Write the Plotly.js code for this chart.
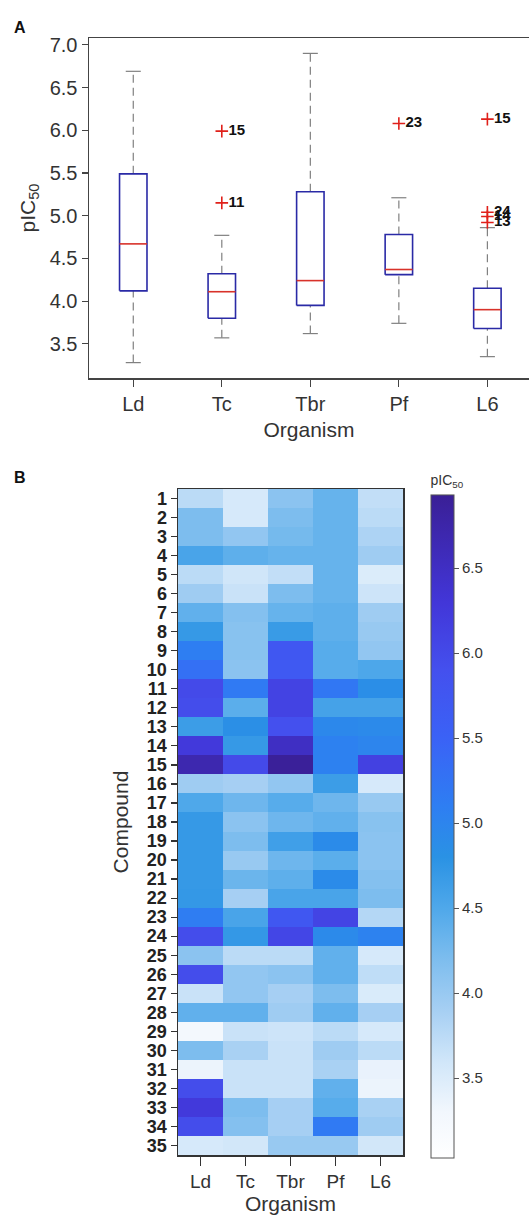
<!DOCTYPE html>
<html>
<head>
<meta charset="utf-8">
<script src="https://cdn.plot.ly/plotly-3.0.1.min.js"></script>
<style>html,body{margin:0;padding:0;background:#fff;}#chart{width:529px;height:1218px;}</style>
</head>
<body>
<div id="chart"></div>
<script>
// ---- Panel A: box-plot summary statistics ----
var organisms = ['Ld', 'Tc', 'Tbr', 'Pf', 'L6'];
var lowerWhisker = [3.28, 3.57, 3.62, 3.74, 3.35];
var q1 = [4.12, 3.80, 3.95, 4.31, 3.68];
var median = [4.67, 4.11, 4.24, 4.37, 3.90];
var q3 = [5.49, 4.32, 5.28, 4.78, 4.15];
var upperWhisker = [6.69, 4.77, 6.90, 5.21, 4.86];
var outlierOrg = ['Tc', 'Tc', 'Pf', 'L6', 'L6', 'L6', 'L6'];
var outlierVal = [5.99, 5.15, 6.08, 6.13, 5.04, 4.99, 4.92];
var outlierLabel = ['15', '11', '23', '15', '24', '14', '13'];
var boxTicks = [3.5, 4.0, 4.5, 5.0, 5.5, 6.0, 6.5, 7.0];

// ---- Panel B: heatmap values (compound x organism) ----
var compounds = [];
for (var c = 1; c <= 35; c++) compounds.push(c);
var Ld  = [3.75,4.20,4.20,4.55,3.75,3.95,4.38,4.70,5.10,5.30,6.00,5.95,4.65,6.25,6.69,3.95,4.50,4.70,4.70,4.70,4.70,4.72,5.12,5.95,4.10,5.95,3.65,4.38,3.28,4.20,3.35,5.95,6.25,5.95,3.55];
var Tc  = [3.55,3.55,4.05,4.40,3.60,3.65,4.15,4.12,4.12,4.10,5.15,4.42,4.85,4.70,5.99,3.90,4.30,4.10,4.20,4.00,4.32,3.90,4.55,4.72,3.75,4.05,4.05,4.38,3.65,3.88,3.65,3.65,4.20,4.15,3.58];
var Tbr = [4.10,4.20,4.25,4.35,3.70,4.20,4.35,4.68,5.75,5.70,6.10,6.10,5.90,6.50,6.90,4.05,4.45,4.30,4.62,4.30,4.40,4.55,5.75,6.05,3.75,4.10,3.90,3.95,3.62,3.65,3.65,3.65,3.90,3.90,4.00];
var Pf  = [4.35,4.35,4.35,4.35,4.35,4.35,4.40,4.40,4.45,4.45,5.20,4.58,4.95,5.05,5.05,4.65,4.30,4.38,4.90,4.42,4.90,4.55,6.08,4.92,4.38,4.38,4.20,4.38,3.75,3.95,3.88,4.38,4.45,5.15,4.00];
var L6  = [3.70,3.75,3.85,3.95,3.50,3.62,3.95,4.00,4.05,4.52,4.86,4.58,4.92,4.99,6.13,3.55,4.00,4.12,4.10,4.10,4.15,4.20,3.80,5.04,3.55,3.72,3.52,3.90,3.55,3.75,3.38,3.35,3.88,3.95,3.58];
var cbTicks = [3.5, 4.0, 4.5, 5.0, 5.5, 6.0, 6.5];

// ---- styling constants ----
var FONT = 'Liberation Sans, Arial, sans-serif';
var W = 529, H = 1218;
var zMin = 3.03, zMax = 6.93;
var colorStops = [
  [3.03, '#ffffff'], [3.30, '#f2f7fd'], [3.60, '#d0e6f9'], [3.90, '#a6cff3'],
  [4.20, '#7dbdee'], [4.50, '#4fa8ea'], [4.80, '#2a92e4'], [5.10, '#2e7ef2'],
  [5.50, '#3a62f6'], [5.90, '#4450ee'], [6.30, '#4236d8'], [6.93, '#3a1f96']
];
var colorscale = colorStops.map(function (s) { return [(s[0] - zMin) / (zMax - zMin), s[1]]; });

var traces = [];
var halfBox = 0.155, halfCap = 0.085;
var boxColor = '#2a2aa6', medColor = '#d8322a', whiskColor = '#808080';

var wx = [], wy = [], cx = [], cy = [], bx = [], by = [], mx = [], my = [];
organisms.forEach(function (o, i) {
  wx.push(i, i, null, i, i, null);
  wy.push(q3[i], upperWhisker[i], null, lowerWhisker[i], q1[i], null);
  cx.push(i - halfCap, i + halfCap, null, i - halfCap, i + halfCap, null);
  cy.push(upperWhisker[i], upperWhisker[i], null, lowerWhisker[i], lowerWhisker[i], null);
  bx.push(i - halfBox, i + halfBox, i + halfBox, i - halfBox, i - halfBox, null);
  by.push(q1[i], q1[i], q3[i], q3[i], q1[i], null);
  mx.push(i - halfBox, i + halfBox, null);
  my.push(median[i], median[i], null);
});
traces.push({x: wx, y: wy, type: 'scatter', mode: 'lines', xaxis: 'x', yaxis: 'y',
  line: {color: whiskColor, width: 1.2, dash: '8px,5px'}, hoverinfo: 'skip', showlegend: false});
traces.push({x: cx, y: cy, type: 'scatter', mode: 'lines', xaxis: 'x', yaxis: 'y',
  line: {color: whiskColor, width: 1.2}, hoverinfo: 'skip', showlegend: false});
traces.push({x: bx, y: by, type: 'scatter', mode: 'lines', xaxis: 'x', yaxis: 'y',
  line: {color: boxColor, width: 1.6}, hoverinfo: 'skip', showlegend: false});
traces.push({x: mx, y: my, type: 'scatter', mode: 'lines', xaxis: 'x', yaxis: 'y',
  line: {color: medColor, width: 1.6}, hoverinfo: 'skip', showlegend: false});
traces.push({
  x: outlierOrg.map(function (o) { return organisms.indexOf(o); }),
  y: outlierVal, text: outlierLabel, type: 'scatter', mode: 'markers+text',
  xaxis: 'x', yaxis: 'y', textposition: 'middle right',
  textfont: {family: FONT, size: 15, color: '#111', weight: 'bold'},
  marker: {symbol: 'cross-thin', size: 9, line: {color: '#e0201a', width: 1.6}},
  hoverinfo: 'skip', showlegend: false
});

var cols = [Ld, Tc, Tbr, Pf, L6];
var z = compounds.map(function (c, r) { return cols.map(function (col) { return col[r]; }); });
traces.push({
  type: 'heatmap', z: z, x: [0, 1, 2, 3, 4], y: compounds, xaxis: 'x2', yaxis: 'y2',
  zmin: zMin, zmax: zMax, colorscale: colorscale, showscale: true,
  colorbar: {
    x: 431 / W, xanchor: 'left', xref: 'paper', xpad: 0,
    y: 1 - 815 / H, yanchor: 'middle', yref: 'paper', ypad: 0,
    lenmode: 'pixels', len: 686, thicknessmode: 'pixels', thickness: 23,
    outlinewidth: 1, outlinecolor: '#555',
    ticks: 'outside', ticklen: 5, tickcolor: '#555', tickwidth: 1,
    tickvals: cbTicks, ticktext: cbTicks.map(function (v) { return v.toFixed(1); }),
    tickfont: {family: FONT, size: 15, color: '#333'},
    title: {text: 'pIC<sub>50</sub>', side: 'top', font: {family: FONT, size: 14, color: '#333'}}
  },
  hoverinfo: 'skip'
});

var layout = {
  width: W, height: H,
  margin: {l: 0, r: 0, t: 0, b: 0},
  paper_bgcolor: '#fff', plot_bgcolor: '#fff',
  font: {family: FONT, color: '#333'},
  showlegend: false,
  xaxis: {
    domain: [89 / W, 1], range: [-0.5, 4.47], anchor: 'y',
    tickvals: [0, 1, 2, 3, 4], ticktext: organisms,
    showline: true, mirror: true, linecolor: '#444', linewidth: 1.5,
    ticks: 'outside', ticklen: 7, tickcolor: '#444', tickwidth: 1.2,
    showgrid: false, zeroline: false,
    tickfont: {family: FONT, size: 20, color: '#333'},
    title: {text: 'Organism', font: {family: FONT, size: 21, color: '#333'}, standoff: 9}
  },
  yaxis: {
    domain: [1 - 378 / H, 1 - 38 / H], range: [3.10, 7.08], anchor: 'x',
    tickvals: boxTicks, ticktext: boxTicks.map(function (v) { return v.toFixed(1); }),
    showline: true, mirror: false, linecolor: '#444', linewidth: 1.5,
    ticks: 'outside', ticklen: 6, tickcolor: '#444', tickwidth: 1.2,
    showgrid: false, zeroline: false,
    tickfont: {family: FONT, size: 20, color: '#333'},
    title: {text: 'pIC<sub>50</sub>', font: {family: FONT, size: 21, color: '#333'}, standoff: 8}
  },
  xaxis2: {
    domain: [178 / W, 403 / W], range: [-0.5, 4.5], anchor: 'y2',
    tickvals: [0, 1, 2, 3, 4], ticktext: organisms,
    showline: true, mirror: true, linecolor: '#333', linewidth: 1.5,
    ticks: 'outside', ticklen: 9, tickcolor: '#333', tickwidth: 1.2,
    showgrid: false, zeroline: false,
    tickfont: {family: FONT, size: 19, color: '#333'},
    title: {text: 'Organism', font: {family: FONT, size: 21, color: '#333'}, standoff: 3}
  },
  yaxis2: {
    domain: [1 - 1155 / H, 1 - 489 / H], range: [35.5, 0.5], anchor: 'x2',
    tickvals: compounds, ticktext: compounds.map(String),
    showline: true, mirror: true, linecolor: '#333', linewidth: 1.5,
    ticks: 'outside', ticklen: 6, tickcolor: '#333', tickwidth: 1.2,
    showgrid: false, zeroline: false,
    tickfont: {family: FONT, size: 18, color: '#222', weight: 'bold'},
    title: {text: 'Compound', font: {family: FONT, size: 21, color: '#333'}, standoff: 12}
  },
  annotations: [
    {text: '<b>A</b>', x: 12 / W, y: 1 - 28 / H, xref: 'paper', yref: 'paper',
     xanchor: 'left', yanchor: 'middle', showarrow: false, font: {family: FONT, size: 16, color: '#111'}},
    {text: '<b>B</b>', x: 12 / W, y: 1 - 477 / H, xref: 'paper', yref: 'paper',
     xanchor: 'left', yanchor: 'middle', showarrow: false, font: {family: FONT, size: 16, color: '#111'}}
  ]
};

Plotly.newPlot('chart', traces, layout, {staticPlot: true, displayModeBar: false});
</script>
</body>
</html>
